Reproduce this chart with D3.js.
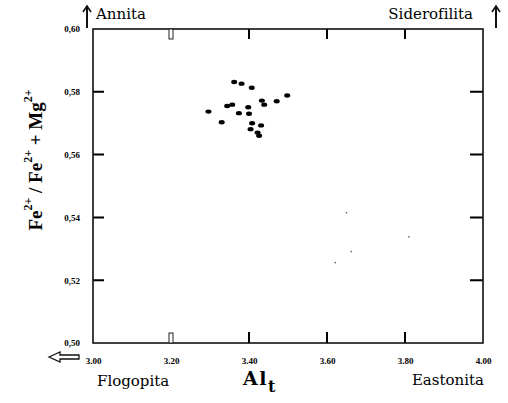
<!DOCTYPE html>
<html lang="es">
<head>
<meta charset="UTF-8">
<title>Al_t vs Fe/(Fe+Mg)</title>
<script src="https://cdnjs.cloudflare.com/ajax/libs/d3/7.8.5/d3.min.js"></script>
<style>
  body { margin: 0; background: #fff; }
</style>
</head>
<body>
<div id="chart"></div>
<script>
// Data
var xTicks = [3.0, 3.2, 3.4, 3.6, 3.8, 4.0];
var yTicks = [0.50, 0.52, 0.54, 0.56, 0.58, 0.60];
var alt = [3.362, 3.381, 3.407, 3.498, 3.471, 3.433, 3.439, 3.344, 3.357, 3.398,
           3.296, 3.374, 3.400, 3.330, 3.408, 3.431, 3.404, 3.422, 3.426];
var feRatio = [0.5831, 0.5826, 0.5813, 0.5788, 0.5770, 0.5772, 0.5759, 0.5755, 0.5759, 0.5751,
               0.5737, 0.5732, 0.5730, 0.5703, 0.5700, 0.5693, 0.5681, 0.5670, 0.5660];
// faint specks in the scan
var speckX = [3.650, 3.810, 3.662, 3.621];
var speckY = [0.5415, 0.5338, 0.5291, 0.5256];

var w = 508, h = 403;
var pLeft = 93, pRight = 483, pTop = 29, pBottom = 343;
var serif = "'DejaVu Serif', 'Liberation Serif', serif";
var times = "'Liberation Serif', serif";

var svg = d3.select("#chart").append("svg")
    .attr("width", w).attr("height", h)
    .style("font-family", serif);

var x = d3.scaleLinear().domain([3.0, 4.0]).range([pLeft, pRight]);
var y = d3.scaleLinear().domain([0.50, 0.60]).range([pBottom, pTop]);

// inner tick marks (not at the corners), one path
var xInner = xTicks.slice(1, -1), yInner = yTicks.slice(1, -1);
var tickPath = d3.path();
xInner.forEach(function(d) {
  if (d == 3.2) return;   // hollow one, drawn below
  tickPath.moveTo(x(d), pBottom); tickPath.lineTo(x(d), pBottom - 11);
  tickPath.moveTo(x(d), pTop); tickPath.lineTo(x(d), pTop + 10);
});
yInner.forEach(function(d) {
  tickPath.moveTo(pLeft, y(d)); tickPath.lineTo(pLeft + 11, y(d));
  tickPath.moveTo(pRight, y(d)); tickPath.lineTo(pRight - 13, y(d));
});
svg.append("path")
    .attr("d", tickPath.toString())
    .attr("fill", "none").attr("stroke", "#000").attr("stroke-width", 2);

// frame
svg.append("rect")
    .attr("x", pLeft).attr("y", pTop)
    .attr("width", pRight - pLeft).attr("height", pBottom - pTop)
    .attr("fill", "none").attr("stroke", "#111").attr("stroke-width", 1.6);

// hollow tick at 3.20 (top and bottom)
[pTop, pBottom - 10].forEach(function(yy) {
  svg.append("rect")
      .attr("x", x(3.2) - 2).attr("y", yy)
      .attr("width", 4).attr("height", 10)
      .attr("fill", "#fff").attr("stroke", "#222").attr("stroke-width", 1);
});

// tick labels through d3 axes
var xAxis = svg.append("g")
    .attr("transform", "translate(0," + pBottom + ")")
    .call(d3.axisBottom(x).tickValues(xTicks).tickSize(0)
          .tickPadding(15).tickFormat(d3.format(".2f")));
xAxis.select(".domain").remove();
xAxis.selectAll("text").attr("font-size", 9).attr("font-weight", "bold")
    .attr("font-family", times).attr("fill", "#000");

var yAxis = svg.append("g")
    .attr("transform", "translate(" + pLeft + ",0)")
    .call(d3.axisLeft(y).tickValues(yTicks).tickSize(0)
          .tickPadding(13).tickFormat(function(d) { return d.toFixed(2).replace(".", ","); }));
yAxis.select(".domain").remove();
yAxis.selectAll("text").attr("font-size", 9).attr("font-weight", "bold")
    .attr("font-family", times).attr("fill", "#000");

// points
var pts = alt.map(function(d, i) { return [d, feRatio[i]]; });
svg.selectAll(".pt").data(pts).enter().append("ellipse")
    .attr("class", "pt")
    .attr("cx", function(d) { return x(d[0]); })
    .attr("cy", function(d) { return y(d[1]); })
    .attr("rx", 3).attr("ry", 2.2)
    .attr("fill", "#000");

var specks = speckX.map(function(d, i) { return [d, speckY[i]]; });
svg.selectAll(".speck").data(specks).enter().append("rect")
    .attr("class", "speck")
    .attr("x", function(d) { return x(d[0]) - 0.7; })
    .attr("y", function(d) { return y(d[1]) - 0.7; })
    .attr("width", 1.4).attr("height", 1.4)
    .attr("fill", "#555");

// arrows
function upArrow(cx, y0, y1) {
  svg.append("rect").attr("x", cx - 1).attr("y", y1).attr("width", 2).attr("height", y0 - y1)
      .attr("fill", "#111");
  svg.append("path")
      .attr("d", "M" + (cx - 4) + "," + (y1 + 6) + "L" + cx + "," + y1 + "L" + (cx + 4) + "," + (y1 + 6))
      .attr("fill", "none").attr("stroke", "#111").attr("stroke-width", 1.6);
}
upArrow(87, 28, 6);
upArrow(496, 28, 6);

// hollow left arrow
svg.append("path")
    .attr("d", "M49,357 L60,352 L60,355 L79,355 L79,359 L60,359 L60,362 Z")
    .attr("fill", "#fff").attr("stroke", "#111").attr("stroke-width", 1.3);

// corner names
svg.append("text").attr("x", 96).attr("y", 19).attr("font-size", 15).text("Annita");
svg.append("text").attr("x", 473).attr("y", 19).attr("font-size", 15)
    .attr("text-anchor", "end").text("Siderofilita");
svg.append("text").attr("x", 97).attr("y", 386).attr("font-size", 15).text("Flogopita");
svg.append("text").attr("x", 484).attr("y", 385).attr("font-size", 15)
    .attr("text-anchor", "end").text("Eastonita");

// x title
var xt = svg.append("text").attr("x", 243).attr("y", 385)
    .attr("font-size", 19).attr("font-weight", "bold").attr("letter-spacing", 1.5);
xt.append("tspan").text("Al");
xt.append("tspan").attr("dy", 7).attr("font-size", 16).text("t");

// y title, rotated
var yt = svg.append("text")
    .attr("transform", "translate(42,160) rotate(-90)")
    .attr("text-anchor", "middle")
    .attr("font-family", times)
    .attr("font-size", 19).attr("font-weight", "bold");
yt.append("tspan").text("Fe");
yt.append("tspan").attr("dy", -10).attr("font-size", 12).text("2+");
yt.append("tspan").attr("dy", 10).text(" / Fe");
yt.append("tspan").attr("dy", -10).attr("font-size", 12).text("2+");
yt.append("tspan").attr("dy", 10).text(" + Mg");
yt.append("tspan").attr("dy", -10).attr("font-size", 12).text("2+");
</script>
</body>
</html>
